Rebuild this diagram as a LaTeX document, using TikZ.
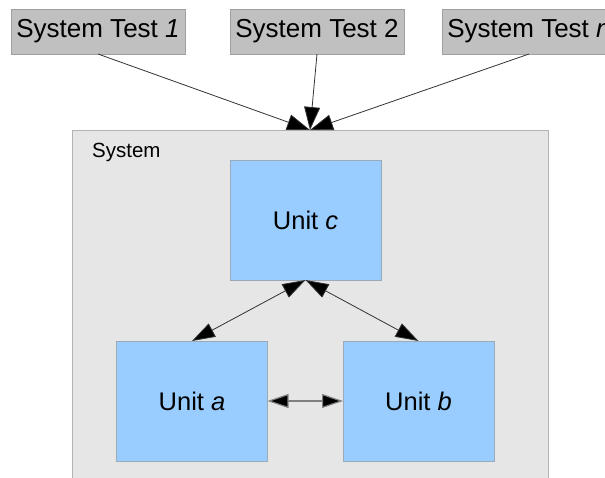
\documentclass[tikz,border=0pt]{standalone}
\usepackage{fontspec}
\setmainfont{Liberation Sans}
\usetikzlibrary{arrows.meta}
\definecolor{topfill}{HTML}{C0C0C0}
\definecolor{topline}{HTML}{A0A0A0}
\definecolor{sysfill}{HTML}{E6E6E6}
\definecolor{sysline}{HTML}{B3B3B3}
\definecolor{unitfill}{HTML}{99CCFF}
\definecolor{unitline}{HTML}{9AAAB8}
\definecolor{arrline}{HTML}{333333}
\begin{document}
\begin{tikzpicture}[x=1pt,y=-1pt,
  topbox/.style={draw=topline, fill=topfill, line width=1pt, minimum width=174pt, minimum height=45pt, inner sep=0pt, outer sep=0pt, font=\fontsize{26}{30}\selectfont},
  sysbox/.style={draw=sysline, fill=sysfill, line width=1pt, minimum width=476pt, minimum height=360pt, inner sep=0pt, outer sep=0pt},
  unitbox/.style={draw=unitline, fill=unitfill, line width=1pt, minimum width=151pt, minimum height=120pt, inner sep=0pt, outer sep=0pt, font=\fontsize{25.5}{30}\selectfont},
  arr/.style={draw=arrline, line width=0.8pt, -{Triangle[length=23pt,width=16pt,fill=black]}},
  darr/.style={draw=arrline, line width=0.8pt, {Triangle[length=23pt,width=15pt,fill=black]}-{Triangle[length=23pt,width=15pt,fill=black]}},
  harr/.style={draw=gray, line width=1.2pt, {Triangle[length=21pt,width=14pt,fill=black]}-{Triangle[length=21pt,width=14pt,fill=black]}}
]
\useasboundingbox (0,0) rectangle (605,477);
\clip (0,0) rectangle (605,477);
\fill[white] (0,0) rectangle (605,477);
\node[sysbox] (sys) at (310,310) {};
\node[anchor=base west, inner sep=0pt, font=\fontsize{20.5}{24}\selectfont] (syslabel) at (92,157.5) {System};
\node[topbox] (t1) at (98,31.5) {System Test \textit{1}};
\node[topbox] (t2) at (317,31.5) {System Test 2};
\node[topbox] (t3) at (529,31.5) {System Test \textit{n}};
\node[unitbox] (uc) at (305.5,220) {Unit \textit{c}};
\node[unitbox] (ua) at (192,401) {Unit \textit{a}};
\node[unitbox] (ub) at (418.5,401) {Unit \textit{b}};
\coordinate (conv) at (310,130);
\draw[arr] (t1.south) -- (conv);
\draw[arr] (t2.south) -- (conv);
\draw[arr] (t3.south) -- (conv);
\draw[darr] (ua.north) -- (uc.south);
\draw[darr] (ub.north) -- (uc.south);
\draw[harr] (ua.east) -- (ub.west);
\end{tikzpicture}
\end{document}
